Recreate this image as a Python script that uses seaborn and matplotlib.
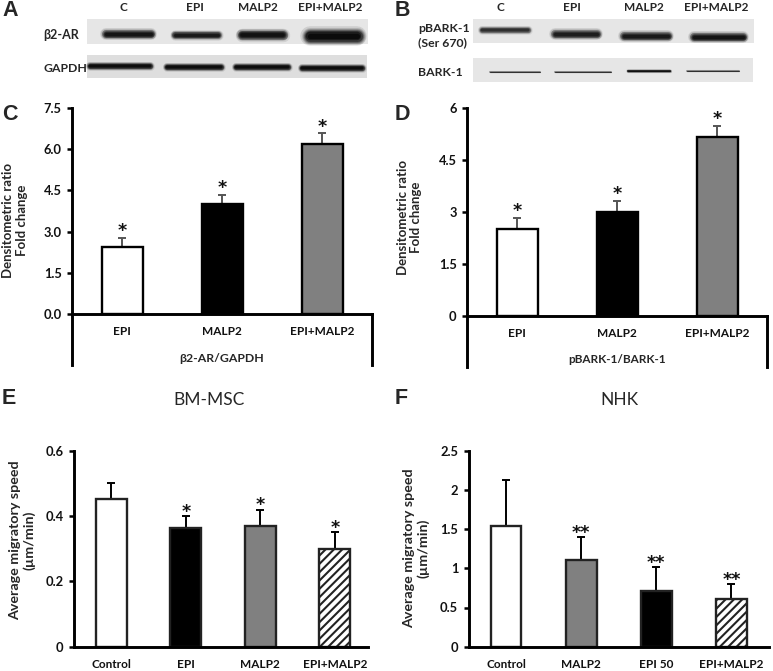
import pandas as pd
import matplotlib.pyplot as plt
import seaborn as sns

sns.set_theme(style="ticks")
LABEL_FONT = ["Lato", "DejaVu Sans"]
plt.rcParams["font.family"] = LABEL_FONT
plt.rcParams["hatch.linewidth"] = 1.5

W, H = 773, 671

WHITE, BLACK, GRAY = "#ffffff", "#000000", "#808080"

# western blots: band thickness (px) and darkness per lane
lanes = ["C", "EPI", "MALP2", "EPI+MALP2"]
b2ar_thick = [8, 7, 9, 13]
b2ar_dark = [0.85, 0.8, 0.9, 1.0]
gapdh_thick = [6, 6, 6, 6]
gapdh_dark = [0.95, 0.95, 0.95, 0.95]
pbark_thick = [6, 8, 8, 8]
pbark_dark = [0.6, 0.75, 0.8, 0.85]
bark_thick = [1.5, 1.5, 2.5, 1.5]
bark_dark = [0.7, 0.7, 0.95, 0.7]

# panel C
c_cats = ["EPI", "MALP2", "EPI+MALP2"]
c_vals = [2.44, 4.02, 6.21]
c_tops = [2.78, 4.34, 6.58]
c_ticks = [0, 1.5, 3, 4.5, 6, 7.5]
c_ticklabels = ["0.0", "1.5", "3.0", "4.5", "6.0", "7.5"]

# panel D
d_cats = ["EPI", "MALP2", "EPI+MALP2"]
d_vals = [2.5, 3.0, 5.16]
d_tops = [2.83, 3.31, 5.5]
d_ticks = [0, 1.5, 3, 4.5, 6]
d_ticklabels = ["0", "1.5", "3", "4.5", "6"]

# panel E
e_cats = ["Control", "EPI", "MALP2", "EPI+MALP2"]
e_vals = [0.451, 0.362, 0.37, 0.30]
e_tops = [0.50, 0.40, 0.42, 0.352]
e_stars = ["", "*", "*", "*"]
e_ticks = [0, 0.2, 0.4, 0.6]
e_ticklabels = ["0", "0.2", "0.4", "0.6"]

# panel F
f_cats = ["Control", "MALP2", "EPI 50", "EPI+MALP2"]
f_vals = [1.536, 1.10, 0.715, 0.61]
f_tops = [2.13, 1.396, 1.02, 0.80]
f_stars = ["", "**", "**", "**"]
f_ticks = [0, 0.5, 1, 1.5, 2, 2.5]
f_ticklabels = ["0", "0.5", "1", "1.5", "2", "2.5"]


def px_text(fig, x, y, s, **kw):
    # place text using image pixel coordinates (origin top left)
    return fig.text(x / W, 1 - y / H, s, **kw)


def draw_blot(bg, x0, x1, y0, y1, centers, widths, ys, thick, dark, shade="#e6e6e6"):
    bg.fill_between([x0, x1], y0, y1, color=shade, lw=0, zorder=1)
    for cx, w, y, t, d in zip(centers, widths, ys, thick, dark):
        # stack thin round lines so the band edge fades out
        for grow, alpha in [(1.5, 0.10), (1.3, 0.14), (1.15, 0.2), (1.0, 0.3), (0.85, 0.4),
                            (0.65, 0.5), (0.4, 0.6)]:
            bg.plot([cx - w / 2 + t / 2, cx + w / 2 - t / 2], [y, y],
                    color="black", alpha=alpha * d, lw=t * grow * 0.72,
                    solid_capstyle="round", zorder=2)


def bar_panel(fig, left, right, top, y0, bottom, ymax, cats, vals, tops, colors,
              ticks, ticklabels, stars, err_color, edge_color, star_gap):
    ax = fig.add_axes([left / W, 1 - bottom / H, (right - left) / W, (bottom - top) / H])
    df = pd.DataFrame({"group": cats, "value": vals})
    sns.barplot(data=df, x="group", y="value", hue="group", palette=colors, width=0.41,
                edgecolor=edge_color, linewidth=1.7, legend=False, saturation=1, ax=ax, zorder=2)
    ax.errorbar(range(len(cats)), vals, yerr=[[0] * len(vals), [t - v for t, v in zip(tops, vals)]],
                fmt="none", ecolor=err_color, elinewidth=1.4, capsize=2.8, capthick=1.4, zorder=1)
    ax.set_xlim(-0.5, len(cats) - 0.5)
    ax.set_ylim(-ymax * (bottom - y0) / (y0 - top), ymax)
    ax.set_xlabel("")
    ax.set_ylabel("")
    ax.patch.set_alpha(0)
    for s in ax.spines.values():
        s.set_linewidth(2.1)
        s.set_color("black")
    ax.spines["top"].set_visible(False)
    # moving a spine resets the ticks, so tick styling has to come after this
    ax.spines["bottom"].set_position(("data", 0))
    ax.spines["bottom"].set_zorder(5)
    ax.spines["right"].set_bounds(ax.get_ylim()[0], 0)
    if bottom == y0:
        ax.spines["right"].set_visible(False)
    ax.set_xticks(range(len(cats)), cats)
    ax.set_yticks(ticks, ticklabels)
    ax.tick_params(axis="y", length=3.5, width=1.8, pad=4, labelsize=9.3, color="black")
    ax.tick_params(axis="x", length=0, pad=9, labelsize=8.5)
    for lab in ax.get_xticklabels() + ax.get_yticklabels():
        lab.set_fontweight("bold")
        lab.set_color("#111111")
    for i, s in enumerate(stars):
        ax.annotate(s, (i, tops[i]), xytext=(0, star_gap), textcoords="offset points",
                    ha="center", va="center", fontsize=12.5, fontweight="bold", color="#111111",
                    family="DejaVu Sans")
    return ax


fig = plt.figure(figsize=(W / 100, H / 100), dpi=100, facecolor="white")

# pixel layer for the blots
bg = fig.add_axes([0, 0, 1, 1], zorder=0)
bg.set_xlim(0, W)
bg.set_ylim(H, 0)
bg.axis("off")

draw_blot(bg, 87, 368, 19, 44, [128, 196, 262, 333], [53, 50, 50, 60], [34, 35, 35, 36],
          b2ar_thick, b2ar_dark)
draw_blot(bg, 87, 367, 55, 78, [120, 194, 262, 332], [66, 60, 58, 66], [66, 67, 67, 68],
          gapdh_thick, gapdh_dark, shade="#dedede")
draw_blot(bg, 473, 754, 19, 43, [505, 576, 646, 718], [52, 50, 52, 57], [30, 34, 36, 37],
          pbark_thick, pbark_dark)
draw_blot(bg, 473, 753, 58, 82, [515, 583, 649, 713], [52, 58, 45, 53], [72, 72, 71, 71],
          bark_thick, bark_dark)

for lane, x in zip(lanes, [123, 195, 258, 330]):
    px_text(fig, x, 7.5, lane, ha="center", va="center", fontsize=8.5, fontweight="bold")
for lane, x in zip(lanes, [500, 572, 644, 716]):
    px_text(fig, x, 7.5, lane, ha="center", va="center", fontsize=8.5, fontweight="bold")

px_text(fig, 43, 35, "β2-AR", ha="left", va="center", fontsize=9, fontweight="bold")
px_text(fig, 43, 68, "GAPDH", ha="left", va="center", fontsize=8.8, fontweight="bold")
px_text(fig, 418, 28, "pBARK-1", ha="left", va="center", fontsize=8.8, fontweight="bold")
px_text(fig, 418, 43, "(Ser 670)", ha="left", va="center", fontsize=8.8, fontweight="bold")
px_text(fig, 418, 73, "BARK-1", ha="left", va="center", fontsize=8.8, fontweight="bold")

ax_c = bar_panel(fig, 72, 372, 108.3, 313.7, 365, 7.5, c_cats, c_vals, c_tops,
                 [WHITE, BLACK, GRAY], c_ticks, c_ticklabels, ["*", "*", "*"],
                 "#555555", "black", 5)
ax_d = bar_panel(fig, 467, 767, 108.3, 315.7, 367, 6, d_cats, d_vals, d_tops,
                 [WHITE, BLACK, GRAY], d_ticks, d_ticklabels, ["*", "*", "*"],
                 "#555555", "black", 5)
ax_e = bar_panel(fig, 74, 372, 450.7, 646.7, 646.7, 0.6, e_cats, e_vals, e_tops,
                 [WHITE, BLACK, GRAY, WHITE], e_ticks, e_ticklabels, e_stars,
                 "black", "#222222", 3)
ax_f = bar_panel(fig, 468.5, 769, 450.7, 646.7, 646.7, 2.5, f_cats, f_vals, f_tops,
                 [WHITE, GRAY, BLACK, WHITE], f_ticks, f_ticklabels, f_stars,
                 "black", "#222222", 3)

ax_e.spines["bottom"].set_bounds(-0.5, 3.45)
ax_e.patches[3].set_hatch("////")
ax_f.patches[3].set_hatch("////")

px_text(fig, 222, 358, "β2-AR/GAPDH", ha="center", va="center", fontsize=8.8, fontweight="bold")
px_text(fig, 617, 359, "pBARK-1/BARK-1", ha="center", va="center", fontsize=8.5, fontweight="bold")

px_text(fig, 15, 220, "Densitometric ratio\nFold change", rotation=90, ha="center", va="center",
        fontsize=9.5, fontweight="bold", linespacing=1.15, multialignment="center")
px_text(fig, 409.5, 217, "Densitometric ratio\nFold change", rotation=90, ha="center", va="center",
        fontsize=9.5, fontweight="bold", linespacing=1.15, multialignment="center")
px_text(fig, 22, 540, "Average migratory speed\n(µm/min)", rotation=90, ha="center", va="center",
        fontsize=10.3, fontweight="bold", linespacing=1.15, multialignment="center")
px_text(fig, 416, 548, "Average migratory speed\n(µm/min)", rotation=90, ha="center", va="center",
        fontsize=10.3, fontweight="bold", linespacing=1.15, multialignment="center")

px_text(fig, 209, 400, "BM-MSC", ha="center", va="center", fontsize=12.5)
px_text(fig, 619, 400, "NHK", ha="center", va="center", fontsize=12.5)

for letter, x, y in [("A", 2, 11), ("B", 395, 10), ("C", 2, 114),
                     ("D", 395, 114), ("E", 2, 399), ("F", 395, 399)]:
    px_text(fig, x, y, letter, ha="left", va="center", fontsize=15.5, fontweight="bold",
            family="Liberation Sans")

fig.savefig("out.png", dpi=100)
